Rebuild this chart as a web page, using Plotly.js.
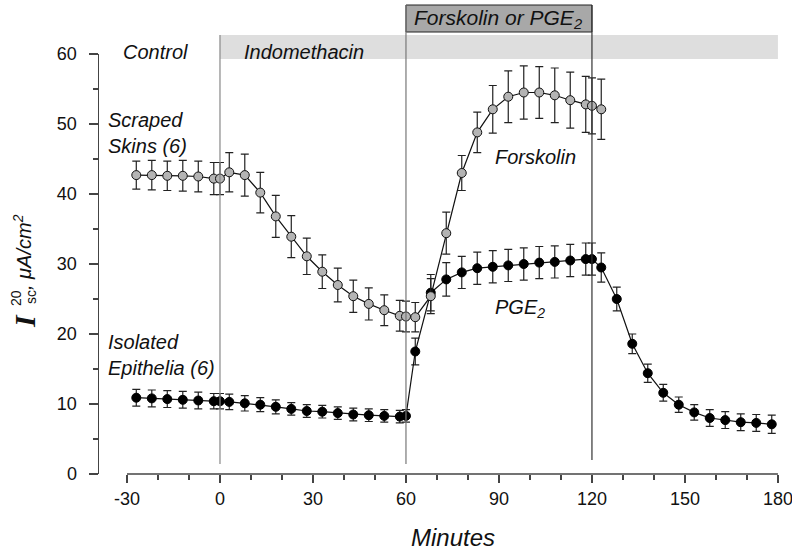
<!DOCTYPE html>
<html>
<head>
<meta charset="utf-8">
<script src="https://cdn.plot.ly/plotly-3.0.1.min.js"></script>
<style>html,body{margin:0;padding:0;background:#fff}#chart{width:792px;height:554px}</style>
</head>
<body>
<div id="chart"></div>
<script>
// Scraped skins (gray markers)
const timeScraped = [-27,-22,-17,-12,-7,-2,0,3,8,13,18,23,28,33,38,43,48,53,58,60,63,68,73,78,83,88,93,98,103,108,113,118,120,123];
const scraped = [42.7,42.7,42.6,42.6,42.5,42.2,42.2,43.1,42.7,40.2,36.8,33.9,31.1,28.9,27.0,25.4,24.3,23.4,22.6,22.5,22.4,25.4,34.4,43.0,48.8,52.1,53.9,54.5,54.5,54.1,53.4,52.8,52.6,52.1];
const scrapedErr = [2.0,2.1,2.1,2.2,2.2,2.3,2.3,2.8,3.0,2.9,3.0,3.0,2.6,2.4,2.4,2.3,2.3,2.2,2.2,2.2,2.1,2.5,3.0,2.5,2.9,3.4,3.7,3.8,3.7,3.9,4.0,4.0,4.0,4.3];

// Isolated epithelia (black markers)
const timeIso = [-27,-22,-17,-12,-7,-2,0,3,8,13,18,23,28,33,38,43,48,53,58,60,63,68,73,78,83,88,93,98,103,108,113,118,120,123,128,133,138,143,148,153,158,163,168,173,178];
const iso = [10.9,10.8,10.7,10.6,10.5,10.4,10.4,10.3,10.1,9.9,9.6,9.3,9.0,8.9,8.7,8.5,8.4,8.3,8.2,8.3,17.5,25.9,27.8,28.8,29.4,29.6,29.8,30.0,30.2,30.3,30.5,30.7,30.7,29.5,25.0,18.6,14.4,11.6,9.9,8.8,8.0,7.7,7.4,7.3,7.1];
const isoErr = [1.2,1.2,1.2,1.2,1.2,1.1,1.1,1.1,1.1,1.0,1.0,0.9,0.9,0.9,0.9,0.9,0.9,0.9,0.9,0.9,1.9,2.6,2.4,2.3,2.3,2.3,2.3,2.3,2.3,2.3,2.3,2.3,2.3,2.1,1.7,1.4,1.3,1.2,1.1,1.1,1.2,1.2,1.2,1.2,1.3];

const xTickVals = [-30,0,30,60,90,120,150,180];
const xTickText = ['-30','0','30','60','90','120','150','180'];
const yTickVals = [0,10,20,30,40,50,60];

const SANS = 'Arial, "Liberation Sans", sans-serif';
const SERIF = '"Times New Roman", "Liberation Serif", serif';

// pixel helpers for paper coords (plot area: x 99..778, y 54..474)
const L = 99, R = 778, T = 54, B = 474;
const px = v => (v - L) / (R - L);
const py = v => (B - v) / (B - T);

const traces = [
  {
    x: timeIso, y: iso, type: 'scatter', mode: 'lines+markers',
    line: {color: '#111', width: 1.2},
    marker: {color: '#000', size: 9, line: {color: '#000', width: 1}},
    error_y: {type: 'data', array: isoErr, visible: true, color: '#222', thickness: 1.2, width: 4},
    hoverinfo: 'skip'
  },
  {
    x: timeScraped, y: scraped, type: 'scatter', mode: 'lines+markers',
    line: {color: '#111', width: 1.2},
    marker: {color: '#b4b4b4', size: 9, line: {color: '#111', width: 1}},
    error_y: {type: 'data', array: scrapedErr, visible: true, color: '#222', thickness: 1.2, width: 4},
    hoverinfo: 'skip'
  }
];

const it = (t) => '<i>' + t + '</i>';
const ann = (text, x, y, opts) => Object.assign({
  text: text, xref: 'paper', yref: 'paper', x: x, y: y,
  showarrow: false, xanchor: 'center', yanchor: 'middle',
  font: {family: SANS, size: 20, color: '#111'}
}, opts || {});

const layout = {
  width: 792, height: 554,
  margin: {l: L, r: 792 - R, t: T, b: 554 - B},
  paper_bgcolor: '#fff', plot_bgcolor: '#fff',
  showlegend: false,
  xaxis: {
    range: [-39.03, 180.02], tickmode: 'array', tickvals: xTickVals, ticktext: xTickText,
    ticks: 'outside', ticklen: 8, tickwidth: 1.5, tickcolor: '#444',
    minor: {dtick: 10, tick0: 0, ticks: 'outside', ticklen: 5, tickwidth: 1.2, tickcolor: '#444'},
    showline: false, showgrid: false, zeroline: false,
    ticklabeloverflow: 'allow',
    tickfont: {family: SANS, size: 18, color: '#111'}
  },
  yaxis: {
    range: [0, 60], tickmode: 'array', tickvals: yTickVals,
    ticks: 'outside', ticklen: 9, tickwidth: 1.5, tickcolor: '#444',
    minor: {dtick: 5, tick0: 0, ticks: 'outside', ticklen: 5, tickwidth: 1.2, tickcolor: '#444'},
    showline: true, linecolor: '#444', linewidth: 1.5,
    showgrid: false, zeroline: false,
    ticklabelstandoff: 8,
    tickfont: {family: SANS, size: 18, color: '#111'}
  },
  shapes: [
    // indomethacin band
    {type: 'rect', xref: 'x', yref: 'paper', x0: 0, x1: 180, y0: py(59), y1: py(35),
     fillcolor: '#dedede', line: {width: 0}, layer: 'below'},
    // forskolin/PGE2 box
    {type: 'rect', xref: 'x', yref: 'paper', x0: 60, x1: 120, y0: py(32), y1: py(5),
     fillcolor: '#a8a8a8', line: {color: '#222', width: 1}},
    // vertical markers
    {type: 'line', xref: 'x', yref: 'paper', x0: 0, x1: 0, y0: py(464), y1: py(35), line: {color: '#888', width: 1.2}},
    {type: 'line', xref: 'x', yref: 'paper', x0: 60, x1: 60, y0: py(464), y1: py(5), line: {color: '#777', width: 1.2}},
    {type: 'line', xref: 'x', yref: 'paper', x0: 120, x1: 120, y0: py(460), y1: py(5), line: {color: '#333', width: 1.2}},
    // detached x axis line
    {type: 'line', xref: 'x', yref: 'paper', x0: -30, x1: 180, y0: 0, y1: 0, line: {color: '#444', width: 1.5}}
  ],
  annotations: [
    ann(it('Control'), px(155), py(52)),
    ann(it('Indomethacin'), px(304), py(52)),
    ann(it('Forskolin or PGE<sub>2</sub>'), px(498), py(19), {font: {family: SANS, size: 21, color: '#111'}}),
    ann(it('Scraped<br>Skins (6)'), px(106), py(133), {xanchor: 'left', align: 'left'}),
    ann(it('Isolated<br>Epithelia (6)'), px(106), py(355), {xanchor: 'left', align: 'left'}),
    ann(it('Forskolin'), px(535), py(157)),
    ann(it('PGE<sub>2</sub>'), px(493), py(308), {xanchor: 'left'}),
    ann(it('Minutes'), px(453), py(537), {font: {family: SANS, size: 24, color: '#111'}}),
    // y-axis title pieces
    ann('<b><i>I</i></b>', px(24), py(321), {textangle: -90, font: {family: SERIF, size: 30, color: '#111'}}),
    ann('20', px(16), py(298), {textangle: -90, font: {family: SANS, size: 14, color: '#111'}}),
    ann('sc', px(31), py(297), {textangle: -90, font: {family: SANS, size: 14, color: '#111'}}),
    ann(it(', μA/cm<sup>2</sup>'), px(22), py(252), {textangle: -90, font: {family: SANS, size: 20, color: '#111'}})
  ]
};

Plotly.newPlot('chart', traces, layout, {displayModeBar: false, staticPlot: true});
</script>
</body>
</html>
